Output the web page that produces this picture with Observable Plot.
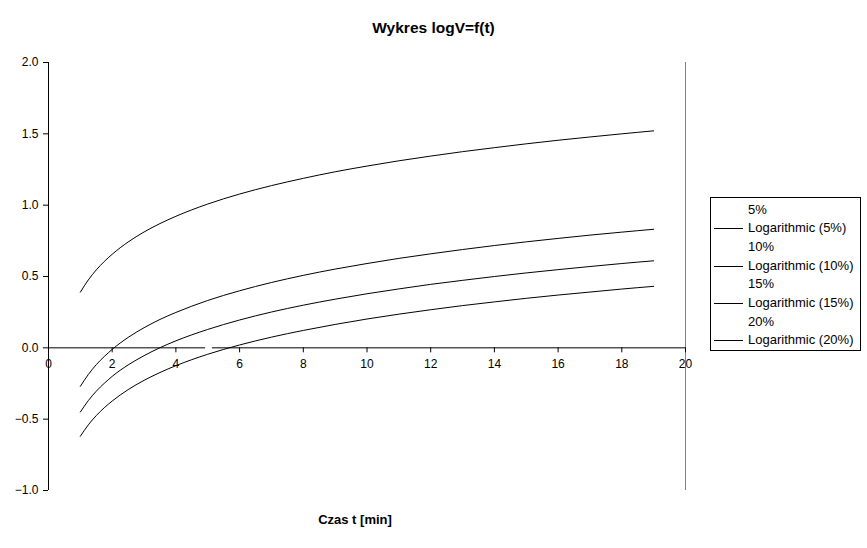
<!DOCTYPE html>
<html>
<head>
<meta charset="utf-8">
<script src="https://cdn.jsdelivr.net/npm/d3@7"></script>
<script src="https://cdn.jsdelivr.net/npm/@observablehq/plot@0.6"></script>
<style>
  html, body { margin: 0; padding: 0; background: #fff; }
  #wrap { position: relative; width: 867px; height: 548px; font-family: "Liberation Sans", Arial, sans-serif; }
  #title { position: absolute; left: 0; width: 867px; top: 19px; text-align: center; font-weight: bold; font-size: 15.5px; }
  #xlabel { position: absolute; left: 255px; width: 200px; top: 512px; text-align: center; font-weight: bold; font-size: 13px; }
  #legend { position: absolute; left: 710px; top: 197px; width: 151px; height: 154px; border: 1px solid #000; box-sizing: border-box; font-size: 13px; }
  .row { position: absolute; left: 37px; height: 18px; line-height: 18px; white-space: nowrap; }
  .sw { position: absolute; left: 3px; width: 29px; border-top: 1px solid #000; }
  #chart { position: absolute; left: 0; top: 0; }
</style>
</head>
<body>
<div id="wrap">
  <div id="chart"></div>
  <div id="title">Wykres logV=f(t)</div>
  <div id="xlabel">Czas t [min]</div>
  <div id="legend"></div>
</div>
<script>
const title = "Wykres logV=f(t)";
const xLabel = "Czas t [min]";
const seriesNames = ["5%", "10%", "15%", "20%"];
const trendNames = ["Logarithmic (5%)", "Logarithmic (10%)", "Logarithmic (15%)", "Logarithmic (20%)"];
const t = [1, 1.25, 1.5, 1.75, 2, 2.5, 3, 3.5, 4, 5, 6, 7, 8, 9, 10, 11, 12, 13, 14, 15, 16, 17, 18, 19];
const trend5 = [0.39, 0.476, 0.546, 0.605, 0.656, 0.742, 0.812, 0.871, 0.922, 1.008, 1.078, 1.137, 1.188, 1.234, 1.274, 1.311, 1.344, 1.375, 1.403, 1.430, 1.455, 1.478, 1.500, 1.521];
const trend10 = [-0.27, -0.187, -0.118, -0.061, -0.011, 0.073, 0.141, 0.199, 0.248, 0.332, 0.400, 0.458, 0.508, 0.552, 0.591, 0.627, 0.659, 0.689, 0.717, 0.743, 0.767, 0.790, 0.811, 0.831];
const trend15 = [-0.45, -0.370, -0.304, -0.249, -0.200, -0.120, -0.055, 0.001, 0.049, 0.129, 0.195, 0.251, 0.299, 0.341, 0.379, 0.413, 0.445, 0.473, 0.500, 0.525, 0.548, 0.570, 0.591, 0.610];
const trend20 = [-0.62, -0.540, -0.475, -0.420, -0.373, -0.293, -0.228, -0.173, -0.125, -0.045, 0.020, 0.075, 0.122, 0.164, 0.202, 0.236, 0.267, 0.296, 0.322, 0.347, 0.370, 0.391, 0.412, 0.431];
const xTicks = [0, 2, 4, 6, 8, 10, 12, 14, 16, 18, 20];
const yTicks = [-1.0, -0.5, 0.0, 0.5, 1.0, 1.5, 2.0];
const xAxisSegments = [[0, 4.93], [5.15, 20]];

const trends = [trend5, trend10, trend15, trend20];
const data = [];
trends.forEach((arr, k) => arr.forEach((v, i) => data.push({series: trendNames[k], t: t[i], v})));
const segData = xAxisSegments.map(([a, b]) => ({a, b}));

const chart = Plot.plot({
  width: 867,
  height: 548,
  marginLeft: 48,
  marginRight: 182,
  marginTop: 62,
  marginBottom: 58,
  style: {fontFamily: "'Liberation Sans', Arial, sans-serif", fontSize: "12px", color: "#000", background: "transparent"},
  x: {domain: [0, 20]},
  y: {domain: [-1, 2]},
  marks: [
    Plot.ruleX([20], {y1: -1, y2: 2, stroke: "#808080", strokeWidth: 1}),
    Plot.axisY({ticks: yTicks, tickFormat: d3.format(".1f"), tickSize: 5, tickPadding: 5, label: null, fontSize: 12}),
    Plot.axisX({ticks: [], label: null, tickSize: 0, text: null}),
    Plot.ruleX([0], {y1: -1, y2: 2, stroke: "#000"}),
    Plot.ruleY(segData, {x1: "a", x2: "b", y: 0, stroke: "#000"}),
    Plot.ruleX(xTicks, {x: d => d, y1: 0, y2: 0, insetBottom: -5, stroke: "#000"}),
    Plot.text(xTicks, {x: d => d, y: 0, text: d => String(d), dy: 16, fontSize: 12}),
    Plot.line(data, {x: "t", y: "v", z: "series", stroke: "#000", strokeWidth: 1, curve: "monotone-x"})
  ]
});
document.getElementById("chart").appendChild(chart);

const legend = document.getElementById("legend");
const rows = [];
seriesNames.forEach((s, k) => { rows.push({label: s, line: false}); rows.push({label: trendNames[k], line: true}); });
rows.forEach((r, i) => {
  const top = 2.5 + i * 18.7;
  const d = document.createElement("div");
  d.className = "row";
  d.style.top = top + "px";
  d.textContent = r.label;
  legend.appendChild(d);
  if (r.line) {
    const sw = document.createElement("div");
    sw.className = "sw";
    sw.style.top = (top + 9) + "px";
    legend.appendChild(sw);
  }
});
</script>
</body>
</html>
